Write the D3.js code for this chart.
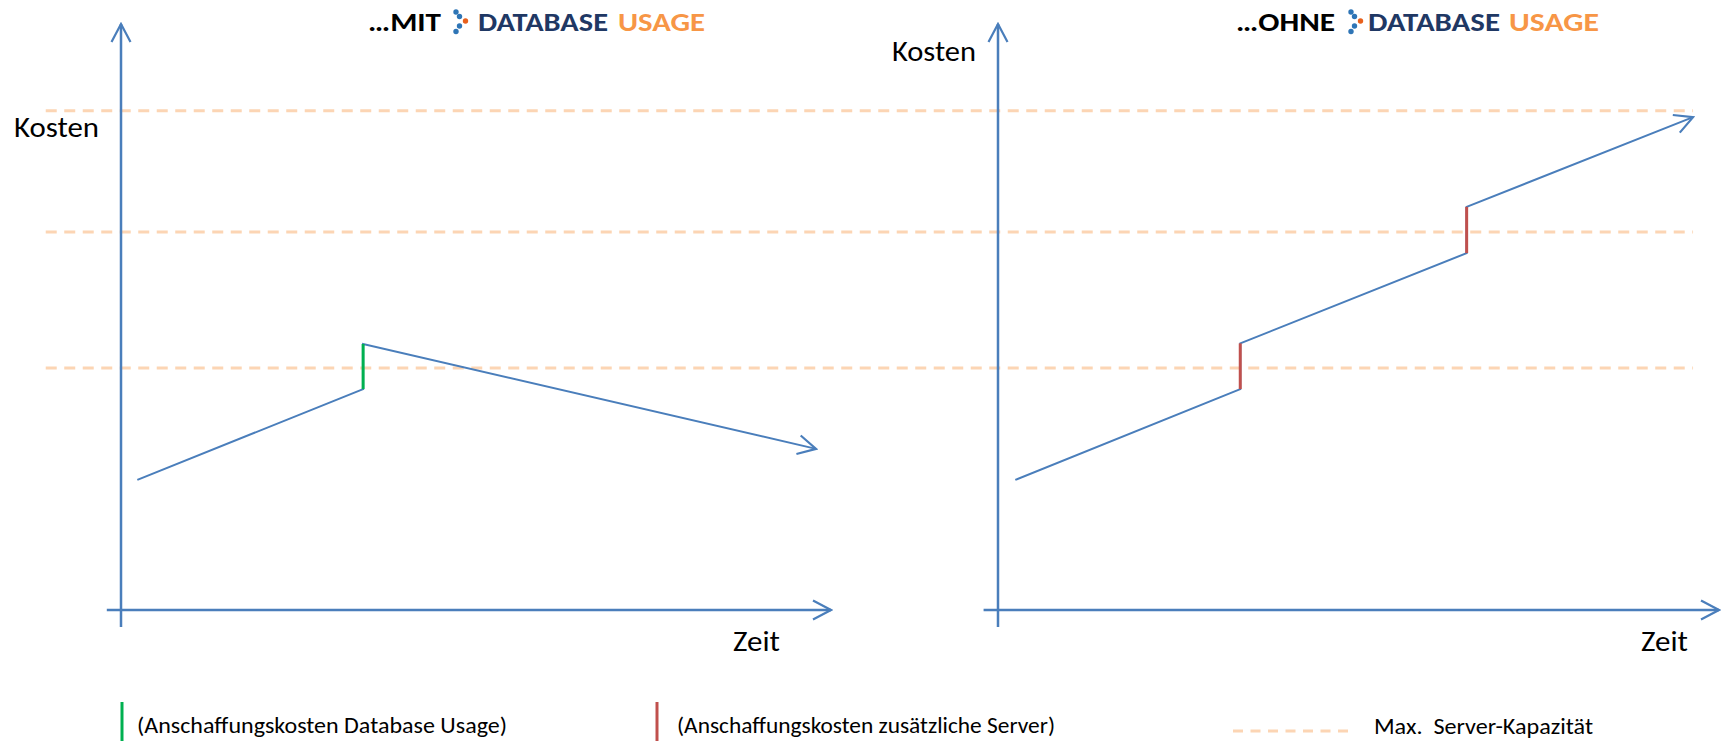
<!DOCTYPE html>
<html>
<head>
<meta charset="utf-8">
<script src="https://cdn.jsdelivr.net/npm/d3@7"></script>
<style>
  html, body { margin: 0; padding: 0; background: #fff; }
  svg { display: block; font-family: Carlito, Lato, "Open Sans", sans-serif; }
</style>
</head>
<body>
<svg id="vis-pane" width="1726" height="741"></svg>
<script>

// values (time 0..100, cost 0..100)
var timeMit = [2.3, 34.1, 34.1, 97.9];
var costMit = [22.2, 37.7, 45.4, 27.5];
var timeOhne = [2.4, 33.6, 33.6, 65.0, 65.0, 96.4];
var costOhne = [22.2, 37.7, 45.5, 60.9, 68.8, 84.1];
var jumpsMit = [1];          // index where the step up starts
var jumpsOhne = [1, 3];
var capacity = [41.3, 64.5, 85.2];
var titlePrefix = ["\u2026MIT", "\u2026OHNE"];
var legendLabels = ["(Anschaffungskosten Database Usage)", "(Anschaffungskosten zus\u00e4tzliche Server)", "Max.  Server-Kapazit\u00e4t"];

var blue = "#4a7ebb", green = "#00b050", red = "#c0504d", peach = "#fcd5b4";
var navy = "#1f3864", orange = "#f79646";

var svg = d3.select("#vis-pane");

var y = d3.scaleLinear().domain([0, 100]).range([610, 24]);
var xMit = d3.scaleLinear().domain([0, 100]).range([121, 831]);
var xOhne = d3.scaleLinear().domain([0, 100]).range([998, 1719]);

// open arrow head
svg.append("defs").append("marker")
    .attr("id", "arrow")
    .attr("markerUnits", "userSpaceOnUse")
    .attr("viewBox", "-20 -11 22 22")
    .attr("markerWidth", 22).attr("markerHeight", 22)
    .attr("refX", 0).attr("refY", 0)
    .attr("orient", "auto")
  .append("path")
    .attr("d", "M-18,-9.5L0,0L-18,9.5")
    .attr("fill", "none")
    .attr("stroke", blue)
    .attr("stroke-width", 2.2);

// capacity lines across both panels
svg.selectAll(".cap")
    .data(capacity)
    .enter().append("line")
    .attr("class", "cap")
    .attr("x1", xMit(-10.6))
    .attr("x2", xOhne(96.4))
    .attr("y1", function(d) { return y(d); })
    .attr("y2", function(d) { return y(d); })
    .attr("stroke", peach)
    .attr("stroke-width", 3)
    .attr("stroke-dasharray", "11,7.5");

var panels = [
    {x: xMit, t: timeMit, c: costMit, jumps: jumpsMit, jumpColor: green},
    {x: xOhne, t: timeOhne, c: costOhne, jumps: jumpsOhne, jumpColor: red}
];

var line = d3.line();

panels.forEach(function(p) {
    var g = svg.append("g");

    // axes
    g.append("line")
        .attr("x1", p.x(0)).attr("x2", p.x(0))
        .attr("y1", y(-2.9)).attr("y2", y(100))
        .attr("stroke", blue).attr("stroke-width", 2.5)
        .attr("marker-end", "url(#arrow)");
    g.append("line")
        .attr("x1", p.x(-2)).attr("x2", p.x(100))
        .attr("y1", y(0)).attr("y2", y(0))
        .attr("stroke", blue).attr("stroke-width", 2.5)
        .attr("marker-end", "url(#arrow)");

    var pts = p.t.map(function(t, i) { return [p.x(t), y(p.c[i])]; });
    g.append("path")
        .attr("d", line(pts))
        .attr("fill", "none")
        .attr("stroke", blue)
        .attr("stroke-width", 2)
        .attr("marker-end", "url(#arrow)");

    g.selectAll(".jump")
        .data(p.jumps)
        .enter().append("line")
        .attr("class", "jump")
        .attr("x1", function(i) { return p.x(p.t[i]); })
        .attr("x2", function(i) { return p.x(p.t[i + 1]); })
        .attr("y1", function(i) { return y(p.c[i]); })
        .attr("y2", function(i) { return y(p.c[i + 1]); })
        .attr("stroke", p.jumpColor)
        .attr("stroke-width", 3);
});

// axis labels
var labels = [
    {text: "Kosten", x: 14, y: 137, w: 85},
    {text: "Zeit", x: 733, y: 651, w: 47},
    {text: "Kosten", x: 892, y: 61, w: 84},
    {text: "Zeit", x: 1641, y: 651, w: 47}
];
svg.selectAll(".axlabel")
    .data(labels)
    .enter().append("text")
    .attr("class", "axlabel")
    .attr("x", function(d) { return d.x; })
    .attr("y", function(d) { return d.y; })
    .attr("textLength", function(d) { return d.w; })
    .attr("lengthAdjust", "spacingAndGlyphs")
    .attr("font-size", 28)
    .attr("fill", "#000")
    .text(function(d) { return d.text; });

// titles
var titlePos = [
    {px: 368, pw: 73, lx: 453, dx: 478, dw: 130, ux: 618, uw: 87},
    {px: 1236, pw: 99, lx: 1348, dx: 1368, dw: 132, ux: 1509, uw: 90}
];
var logoDots = [[3, -19, navy], [6.5, -14.5, navy], [12.5, -10, "#e8601c"], [6.5, -5, navy], [3, 0.5, navy]];

titlePos.forEach(function(d, i) {
    var base = 31;
    var t = svg.append("g").attr("font-weight", 900).attr("font-size", 27);
    t.append("text").attr("x", d.px).attr("y", base)
        .attr("textLength", d.pw).attr("lengthAdjust", "spacingAndGlyphs")
        .attr("fill", "#000").text(titlePrefix[i]);
    t.append("text").attr("x", d.dx).attr("y", base)
        .attr("textLength", d.dw).attr("lengthAdjust", "spacingAndGlyphs")
        .attr("fill", navy).text("DATABASE");
    t.append("text").attr("x", d.ux).attr("y", base)
        .attr("textLength", d.uw).attr("lengthAdjust", "spacingAndGlyphs")
        .attr("fill", orange).text("USAGE");
    t.selectAll("circle")
        .data(logoDots)
        .enter().append("circle")
        .attr("cx", function(c) { return d.lx + c[0]; })
        .attr("cy", function(c) { return base + c[1]; })
        .attr("r", 2.7)
        .attr("fill", function(c) { return c[2] === navy ? "#2e75b6" : c[2]; });
});

// legend
var legend = svg.append("g").attr("font-size", 22).attr("fill", "#000");
legend.append("line")
    .attr("x1", 122).attr("x2", 122).attr("y1", 702).attr("y2", 741)
    .attr("stroke", green).attr("stroke-width", 3);
legend.append("text").attr("x", 137).attr("y", 733)
    .attr("textLength", 370).attr("lengthAdjust", "spacingAndGlyphs")
    .text(legendLabels[0]);
legend.append("line")
    .attr("x1", 657).attr("x2", 657).attr("y1", 702).attr("y2", 741)
    .attr("stroke", red).attr("stroke-width", 3);
legend.append("text").attr("x", 677).attr("y", 733)
    .attr("textLength", 378).attr("lengthAdjust", "spacingAndGlyphs")
    .text(legendLabels[1]);
legend.append("line")
    .attr("x1", 1233).attr("x2", 1350).attr("y1", 731).attr("y2", 731)
    .attr("stroke", peach).attr("stroke-width", 3)
    .attr("stroke-dasharray", "10,7.5");
legend.append("text").attr("x", 1374).attr("y", 734)
    .attr("textLength", 219).attr("lengthAdjust", "spacingAndGlyphs")
    .style("white-space", "pre")
    .text(legendLabels[2]);

</script>
</body>
</html>
